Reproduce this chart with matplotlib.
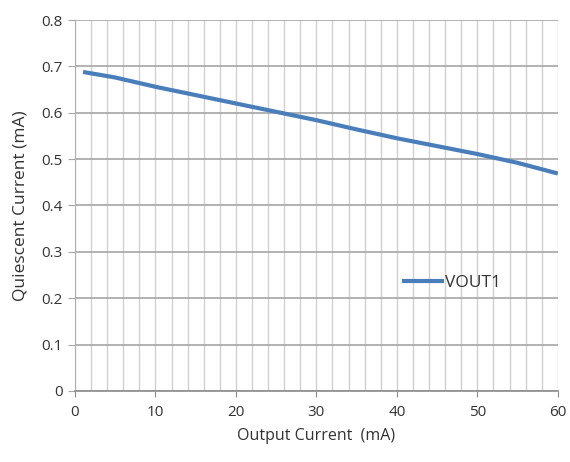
import matplotlib
matplotlib.use("Agg")
import matplotlib.pyplot as plt
import numpy as np

# ===========================
# Data
# ===========================
output_ma = [1, 5, 10, 15, 20, 25, 30, 35, 40, 45, 50, 55, 60]
vout1_ma = [0.688, 0.676, 0.656, 0.638, 0.620, 0.602, 0.584, 0.564, 0.545, 0.528, 0.511, 0.492, 0.469]

x_ticks = [0, 10, 20, 30, 40, 50, 60]
y_ticks = [0, 0.1, 0.2, 0.3, 0.4, 0.5, 0.6, 0.7, 0.8]
y_labels = ["0", "0.1", "0.2", "0.3", "0.4", "0.5", "0.6", "0.7", "0.8"]

plt.rcParams["font.family"] = ["Open Sans", "DejaVu Sans"]

fig = plt.figure(figsize=(5.7, 4.62), dpi=100)
ax = fig.add_axes([0.1316, 0.1537, 0.847, 0.803])

ax.plot(output_ma, vout1_ma, color="#4a7ebb", linewidth=3, label="VOUT1",
        solid_capstyle="butt")

ax.set_xlim(0, 60)
ax.set_ylim(0, 0.8)
ax.set_xticks(x_ticks)
ax.set_xticks(np.arange(0, 61, 2), minor=True)
ax.set_yticks(y_ticks)
ax.set_yticklabels(y_labels)

# vertical grid every 2 mA (light), horizontal grid darker
ax.grid(True, which="minor", axis="x", color="#d0d0d0", linewidth=1)
ax.grid(True, which="major", axis="x", color="#d0d0d0", linewidth=1)
ax.grid(True, which="major", axis="y", color="#a6a6a6", linewidth=1.2)
ax.set_axisbelow(True)

for side in ["top", "right"]:
    ax.spines[side].set_visible(False)
ax.spines["left"].set_color("#b0b0b0")
ax.spines["bottom"].set_color("#8c8c8c")
ax.spines["bottom"].set_linewidth(1.2)

ax.tick_params(axis="x", which="major", length=4, color="#8c8c8c",
               labelsize=11, labelcolor="#333333", pad=6)
ax.tick_params(axis="x", which="minor", length=0)
ax.tick_params(axis="y", which="major", length=5, color="#a6a6a6",
               labelsize=11, labelcolor="#333333", pad=4)

ax.set_xlabel("Output Current  (mA)", fontsize=11.5, color="#333333", labelpad=6)
ax.set_ylabel("Quiescent Current (mA)", fontsize=12.5, color="#333333", labelpad=9)

leg = ax.legend(loc="center left", bbox_to_anchor=(0.645, 0.29), frameon=False,
                fontsize=12.5, handlelength=2.4, handletextpad=0.1)
for t in leg.get_texts():
    t.set_color("#333333")

plt.savefig("out.png", dpi=100)
plt.close(fig)
